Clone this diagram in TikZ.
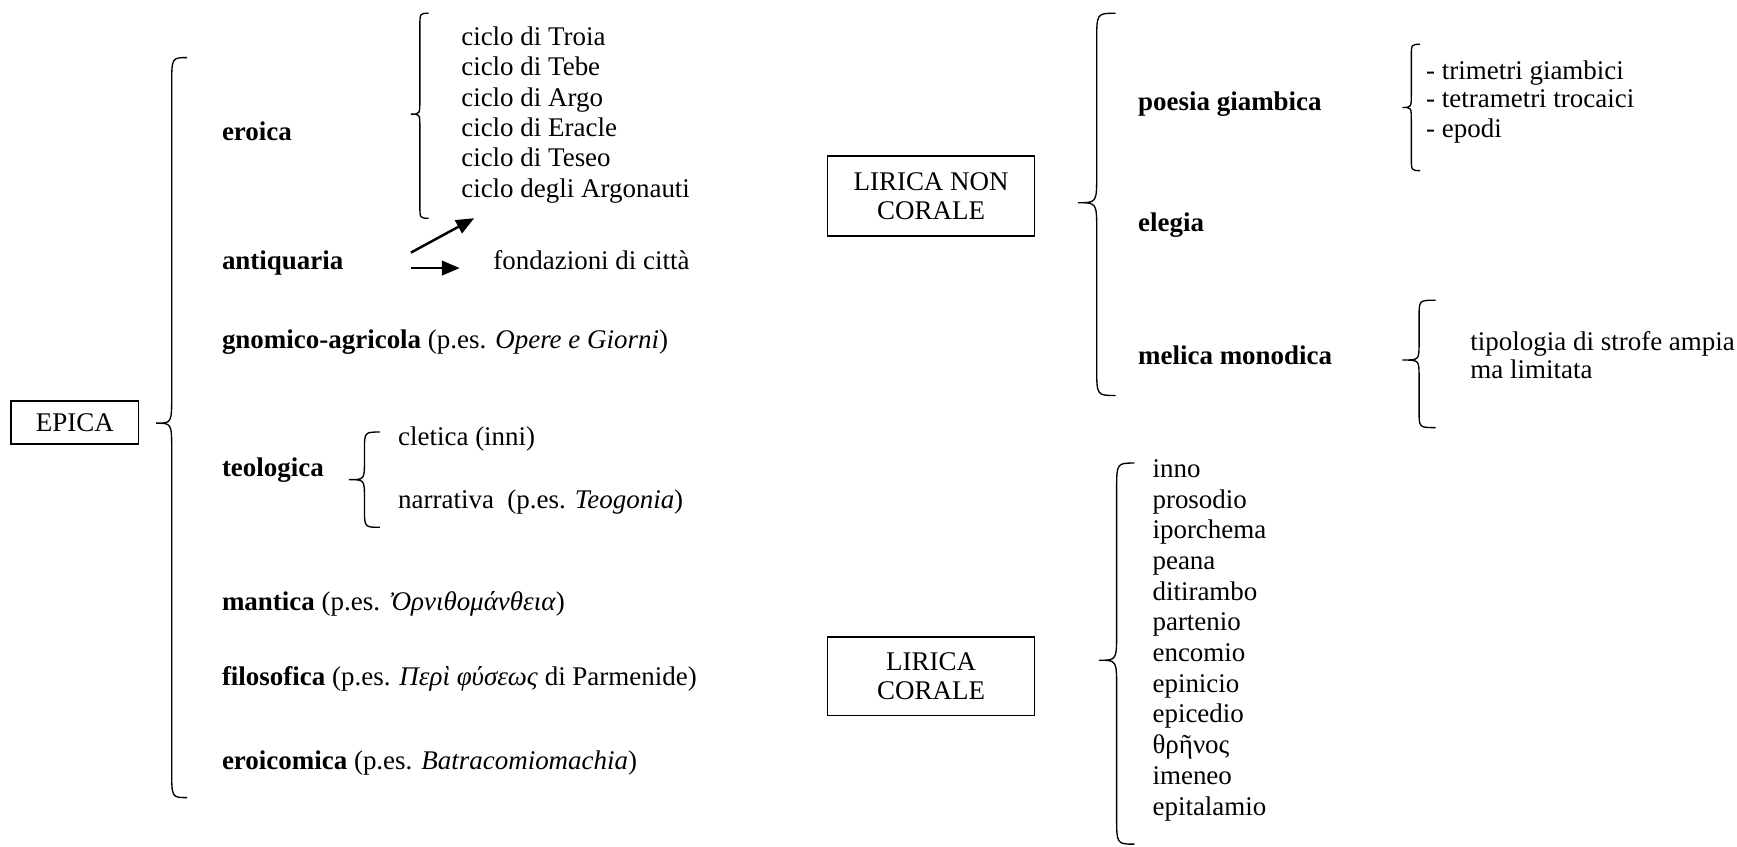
\documentclass[tikz,border=0pt]{standalone}
\usepackage{fontspec}
\setmainfont{Liberation Serif}
\usetikzlibrary{arrows.meta}
\newcommand\wbrace[6]{\draw[bracepath] ({#1+#5},#2) .. controls (#1,#2) .. (#1,{#2+#6}) -- (#1,{#3-#6}) .. controls (#1,#3) .. ({#1-#5},#3) .. controls (#1,#3) .. (#1,{#3+#6}) -- (#1,{#4-#6}) .. controls (#1,#4) .. ({#1+#5},#4);}
\begin{document}
\begin{tikzpicture}[x=0.493pt,y=-0.493pt,
  lbl/.style={anchor=base west, inner sep=0pt, font=\fontsize{12}{13.8}\selectfont},
  box/.style={draw, line width=0.7pt, inner sep=0pt, align=center, font=\fontsize{12}{13}\selectfont},
  bracepath/.style={line width=0.6pt},
  arr/.style={line width=1.1pt, -{Triangle[length=8pt,width=6.5pt]}}]
\useasboundingbox (0,0) rectangle (1568,764);

% EPICA
\node[box, minimum width=115*0.493pt, minimum height=39*0.493pt] (epica) at (67.5,381.5) {EPICA};
\wbrace{155}{52}{382}{720}{14}{25}

\node[lbl] (eroica) at (200,127) {\textbf{eroica}};
\node[lbl] (antiq) at (200,243) {\textbf{antiquaria}};
\node[lbl] (gnom) at (200,315) {\textbf{gnomico-agricola} (p.es. \textit{Opere e Giorni})};
\node[lbl] (teol) at (200,430) {\textbf{teologica}};
\node[lbl] (mant) at (200,551) {\textbf{mantica} (p.es. \textit{Ὀρνιθομάνθεια})};
\node[lbl] (filo) at (200,619) {\textbf{filosofica} (p.es. \textit{Περὶ φύσεως} di Parmenide)};
\node[lbl] (eroic) at (200,695) {\textbf{eroicomica} (p.es. \textit{Batracomiomachia})};

% cicli
\wbrace{379}{12}{103}{197}{8}{12}
\foreach \t [count=\i] in {ciclo di Troia, ciclo di Tebe, ciclo di Argo, ciclo di Eracle, ciclo di Teseo, ciclo degli Argonauti}
  \node[lbl] (c\i) at (416,{41+27.4*(\i-1)}) {\t};

% antiquaria arrows
\coordinate (a1s) at (371,228);
\coordinate (a1e) at (428,197);
\coordinate (a2s) at (371,242);
\coordinate (a2e) at (415,242);
\draw[arr] (a1s) -- (a1e);
\draw[arr] (a2s) -- (a2e);
\node[lbl] (fond) at (445,243) {fondazioni di città};

% teologica
\wbrace{329}{390}{433}{476}{14}{17}
\node[lbl] (clet) at (359,402) {cletica (inni)};
\node[lbl] (narr) at (359,459) {narrativa\ \ (p.es. \textit{Teogonia})};

% LIRICA NON CORALE
\node[box, minimum width=187*0.493pt, minimum height=72*0.493pt] (lnc) at (840.5,177) {LIRICA NON\\CORALE};
\wbrace{990}{12}{183}{357}{17}{25}
\node[lbl] (poes) at (1027,100) {\textbf{poesia giambica}};
\node[lbl] (eleg) at (1027,209) {\textbf{elegia}};
\node[lbl] (meli) at (1027,329) {\textbf{melica monodica}};

\wbrace{1274}{40}{97}{154}{8}{12}
\node[lbl] (p1) at (1287,72) {- trimetri giambici};
\node[lbl] (p2) at (1287,97) {- tetrametri trocaici};
\node[lbl] (p3) at (1287,124) {- epodi};

\wbrace{1281}{271}{325}{386}{15}{15}
\node[lbl] (m1) at (1327,316) {tipologia di strofe ampia};
\node[lbl] (m2) at (1327,342) {ma limitata};

% LIRICA CORALE
\node[box, minimum width=187*0.493pt, minimum height=71*0.493pt] (lc) at (840.5,610.5) {LIRICA\\CORALE};
\wbrace{1008}{418}{596}{762}{16}{25}
\foreach \t [count=\i] in {inno, prosodio, iporchema, peana, ditirambo, partenio, encomio, epinicio, epicedio, θρῆνος, imeneo, epitalamio}
  \node[lbl] (k\i) at (1040,{431+27.7*(\i-1)}) {\t};
\end{tikzpicture}
\end{document}
